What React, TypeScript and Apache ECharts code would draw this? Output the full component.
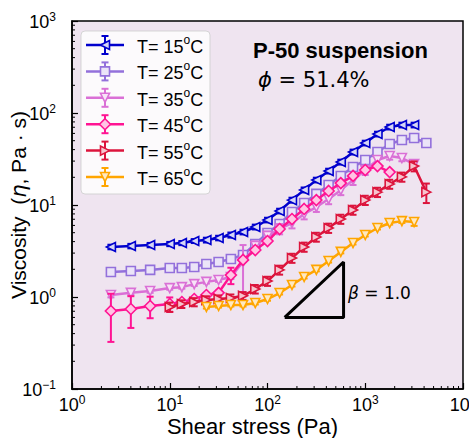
import React, { useEffect, useRef } from "react";
import * as echarts from "echarts";

// ---- axis ticks ----
const xTicks = [1, 10, 100, 1000, 10000];
const yTicks = [0.1, 1, 10, 100, 1000];

// ---- data: shear stress (Pa), viscosity (Pa·s), error (Pa·s) ----
const stress15 = [2.5, 4.0, 6.3, 10, 13.3, 17.8, 23.7, 31.6, 42.2, 56.2, 75, 100, 133, 178, 237, 316, 422, 562, 750, 1000, 1334, 1778, 2371, 3162];
const visc15 = [3.5, 3.58, 3.67, 3.77, 3.86, 4.06, 4.16, 4.38, 4.72, 5.09, 5.77, 6.87, 8.61, 11.3, 14.6, 18.7, 23.4, 29.3, 37.7, 47.2, 59.1, 70.4, 74.1, 74.1];
const err15 = [0.2, 0.2, 0.2, 0.2, 0.2, 0.2, 0.25, 0.25, 0.3, 0.3, 0.35, 0.4, 0.5, 0.7, 0.9, 1.1, 1.4, 1.8, 2.3, 2.8, 3.5, 4.2, 4.4, 4.4];

const stress25 = [2.5, 4.0, 6.3, 10, 13.3, 17.8, 23.7, 31.6, 42.2, 56.2, 75, 100, 133, 178, 237, 316, 422, 562, 750, 1000, 1334, 1778, 2371, 3162, 4217];
const visc25 = [1.87, 1.92, 1.97, 2.07, 2.07, 2.12, 2.28, 2.4, 2.59, 2.86, 3.77, 4.96, 6.22, 8.39, 10.5, 13.2, 16.5, 20.7, 25.9, 30.8, 37.7, 46.0, 50.9, 53.5, 47.2];
const err25 = [0.07, 0.07, 0.08, 0.08, 0.08, 0.08, 0.09, 0.1, 0.1, 0.11, 0.15, 0.2, 0.25, 0.35, 0.4, 0.5, 0.7, 0.8, 1.0, 1.2, 1.5, 1.8, 2.0, 2.1, 1.9];

const stress35 = [2.5, 4.0, 6.3, 10, 13.3, 17.8, 23.7, 31.6, 42.2, 56.2, 75, 100, 133, 178, 237, 316, 422, 562, 750, 1000, 1334, 1778, 2371, 3162];
const visc35 = [1.05, 1.11, 1.16, 1.25, 1.28, 1.38, 1.46, 1.53, 1.65, 2.4, 3.58, 4.6, 5.5, 6.37, 7.98, 9.5, 11.6, 14.5, 18.7, 24.0, 30.8, 34.1, 32.4, 27.8];
const err35 = [0.06, 0.05, 0.05, 0.05, 0.05, 0.06, 0.06, 0.07, 0.08, 1.27, 0.45, 0.55, 0.7, 0.8, 1.0, 1.1, 1.4, 1.7, 2.2, 2.8, 3.0, 3.0, 2.5, 2.0];

const stress45 = [2.5, 4.0, 6.3, 10, 13.3, 17.8, 23.7, 31.6, 42.2, 56.2, 75, 100, 133, 178, 237, 316, 422, 562, 750, 1000, 1334, 1778];
const visc45 = [0.705, 0.741, 0.798, 0.839, 0.882, 0.95, 1.05, 1.11, 1.73, 2.53, 3.24, 4.06, 5.48, 7.04, 9.05, 11.3, 14.2, 17.3, 20.7, 24.0, 26.5, 22.8];
const err45 = [0.38, 0.28, 0.21, 0.15, 0.05, 0.05, 0.05, 0.06, 0.35, 0.12, 0.15, 0.15, 0.2, 0.25, 0.3, 0.4, 0.5, 0.6, 0.7, 0.8, 0.9, 0.8];

const stress55 = [10, 13.3, 17.8, 23.7, 31.6, 42.2, 56.2, 75, 100, 133, 178, 237, 316, 422, 562, 750, 1000, 1334, 1778, 2371, 3162, 4217];
const visc55 = [0.779, 0.839, 0.882, 0.928, 0.951, 0.975, 1.03, 1.22, 1.49, 1.97, 2.65, 3.5, 4.49, 5.62, 7.04, 8.83, 11.3, 13.8, 16.9, 20.2, 26.5, 13.8];
const err55 = [0.09, 0.08, 0.09, 0.09, 0.09, 0.09, 0.1, 0.13, 0.17, 0.22, 0.3, 0.4, 0.5, 0.65, 0.8, 1.0, 1.3, 1.6, 1.9, 2.3, 3.3, 3.3];

const stress65 = [23.7, 31.6, 42.2, 56.2, 75, 100, 133, 178, 237, 316, 422, 562, 750, 1000, 1334, 1778, 2371, 3162];
const visc65 = [0.779, 0.798, 0.818, 0.818, 0.86, 0.951, 1.105, 1.35, 1.65, 1.97, 2.46, 3.09, 3.86, 4.72, 5.62, 6.37, 6.68, 6.53];
const err65 = [0.03, 0.03, 0.03, 0.03, 0.03, 0.04, 0.04, 0.05, 0.06, 0.07, 0.09, 0.11, 0.14, 0.17, 0.2, 0.25, 0.3, 0.6];

// slope triangle (beta = 1.0)
const slopeX = [150, 600, 600, 150];
const slopeY = [0.6, 0.6, 2.4, 0.6];

const temps = ["15", "25", "35", "45", "55", "65"];
const stresses = [stress15, stress25, stress35, stress45, stress55, stress65];
const viscs = [visc15, visc25, visc35, visc45, visc55, visc65];
const errs = [err15, err25, err35, err45, err55, err65];

const colors = ["#0000cd", "#9370db", "#da70d6", "#ff1493", "#dc143c", "#ffa500"];
const faces = ["#d6d6f6", "#ebe4f8", "#f8e4f7", "#ffc4e4", "#f6c4ce", "#ffe9bf"];
const symbols = ["triangle", "rect", "triangle", "diamond", "triangle", "triangle"];
const rotations = [90, 0, 180, 0, -90, 180];
const markerKinds = ["left", "square", "down", "diamond", "right", "down"];

const SANS = "Liberation Sans";
const DEJAVU = "DejaVu Sans";

function markerShape(kind: string, cx: number, cy: number, color: string, face: string) {
  const r = 4.5;
  const style = { fill: face, stroke: color, lineWidth: 1.6 };
  if (kind === "square") return { type: "rect", shape: { x: cx - r, y: cy - r, width: 2 * r, height: 2 * r }, style };
  let pts: number[][] = [];
  if (kind === "left") pts = [[cx - r, cy], [cx + r, cy - r], [cx + r, cy + r]];
  if (kind === "right") pts = [[cx + r, cy], [cx - r, cy - r], [cx - r, cy + r]];
  if (kind === "down") pts = [[cx - r, cy - r], [cx + r, cy - r], [cx, cy + r]];
  if (kind === "diamond") pts = [[cx, cy - 5.5], [cx + 5.5, cy], [cx, cy + 5.5], [cx - 5.5, cy]];
  return { type: "polygon", shape: { points: pts }, style };
}

export default function App() {
  const ref = useRef<HTMLDivElement>(null);
  useEffect(() => {
    const chart = echarts.init(ref.current!, null, { renderer: "svg" });

    const tickRich = {
      b: { fontSize: 18, fontFamily: SANS, color: "#000", lineHeight: 20, verticalAlign: "bottom" },
      s: { fontSize: 12, fontFamily: SANS, color: "#000", lineHeight: 6, verticalAlign: "top" },
    };
    const fmt = (v: number) => {
      const e = Math.round(Math.log10(v));
      return `{b|10}{s|${e < 0 ? "\u2212" + -e : e}}`;
    };

    const xMinor: number[] = [];
    for (let d = 0; d < 4; d++) for (let m = 2; m <= 9; m++) xMinor.push(m * Math.pow(10, d));
    const yMinor: number[] = [];
    for (let d = -1; d < 3; d++) for (let m = 2; m <= 9; m++) yMinor.push(m * Math.pow(10, d));

    const series: any[] = [];
    temps.forEach((t, i) => {
      const color = colors[i];
      series.push({
        type: "custom",
        silent: true,
        z: 2 + i * 2,
        clip: false,
        data: stresses[i].map((x, k) => [x, viscs[i][k], errs[i][k]]),
        encode: { x: 0, y: 1 },
        renderItem: (_p: any, api: any) => {
          const xv = api.value(0), yv = api.value(1), e = api.value(2);
          const top = api.coord([xv, yv + e]);
          const bot = api.coord([xv, Math.max(yv - e, 0.001)]);
          const hw = 3.5;
          const st = { stroke: color, lineWidth: 2 };
          return {
            type: "group",
            children: [
              { type: "line", shape: { x1: top[0], y1: top[1], x2: bot[0], y2: bot[1] }, style: st },
              { type: "line", shape: { x1: top[0] - hw, y1: top[1], x2: top[0] + hw, y2: top[1] }, style: st },
              { type: "line", shape: { x1: bot[0] - hw, y1: bot[1], x2: bot[0] + hw, y2: bot[1] }, style: st },
            ],
          };
        },
      });
      series.push({
        type: "line",
        name: `T= ${t}`,
        silent: true,
        z: 3 + i * 2,
        data: stresses[i].map((x, k) => [x, viscs[i][k]]),
        symbol: symbols[i],
        symbolSize: symbols[i] === "diamond" ? 11 : 9,
        symbolRotate: rotations[i],
        showSymbol: true,
        lineStyle: { color, width: 2.5 },
        itemStyle: { color: faces[i], borderColor: color, borderWidth: 1.6 },
      });
    });

    series.push({
      type: "line",
      silent: true,
      z: 20,
      symbol: "none",
      data: slopeX.map((x, k) => [x, slopeY[k]]),
      lineStyle: { color: "#000", width: 3 },
    });

    series.push({
      type: "custom",
      silent: true,
      z: 21,
      clip: false,
      data: xMinor.map((v) => [v, yTicks[0]]),
      encode: { x: 0, y: 1 },
      renderItem: (_p: any, api: any) => {
        const p = api.coord([api.value(0), yTicks[0]]);
        return { type: "line", shape: { x1: p[0], y1: p[1], x2: p[0], y2: p[1] - 3 }, style: { stroke: "#000", lineWidth: 1 } };
      },
    });
    series.push({
      type: "custom",
      silent: true,
      z: 21,
      clip: false,
      data: yMinor.map((v) => [xTicks[0], v]),
      encode: { x: 0, y: 1 },
      renderItem: (_p: any, api: any) => {
        const p = api.coord([xTicks[0], api.value(1)]);
        return { type: "line", shape: { x1: p[0], y1: p[1], x2: p[0] + 3, y2: p[1] }, style: { stroke: "#000", lineWidth: 1 } };
      },
    });

    // legend (manual, matplotlib style)
    const legendChildren: any[] = [
      { type: "rect", shape: { x: 81, y: 31, width: 129, height: 163, r: 4 }, style: { fill: "rgba(255,255,255,0.8)", stroke: "rgba(204,204,204,0.8)", lineWidth: 1 } },
    ];
    temps.forEach((t, i) => {
      const cy = 45 + i * 26.4;
      const cx = 105;
      const color = colors[i];
      const st = { stroke: color, lineWidth: 2 };
      legendChildren.push(
        { type: "line", shape: { x1: 86, y1: cy, x2: 124, y2: cy }, style: { stroke: color, lineWidth: 2.5 } },
        { type: "line", shape: { x1: cx, y1: cy - 9, x2: cx, y2: cy + 9 }, style: st },
        { type: "line", shape: { x1: cx - 3.5, y1: cy - 9, x2: cx + 3.5, y2: cy - 9 }, style: st },
        { type: "line", shape: { x1: cx - 3.5, y1: cy + 9, x2: cx + 3.5, y2: cy + 9 }, style: st },
        markerShape(markerKinds[i], cx, cy, color, faces[i]),
        {
          type: "text",
          x: 137,
          y: cy,
          style: {
            text: `{b|T= ${t}}{s|o}{b|C}`,
            verticalAlign: "middle",
            align: "left",
            rich: {
              b: { fontSize: 18, fontFamily: SANS, fill: "#000", lineHeight: 22, verticalAlign: "bottom" },
              s: { fontSize: 12, fontFamily: SANS, fill: "#000", lineHeight: 12, verticalAlign: "top" },
            },
          },
        }
      );
    });

    const option: any = {
      animation: false,
      backgroundColor: "#ffffff",
      grid: {
        left: 72, right: 6, top: 21, bottom: 49,
        containLabel: false, outerBoundsMode: "none",
        show: true, backgroundColor: "#efe4f0", borderColor: "#000", borderWidth: 1.5,
      },
      xAxis: {
        type: "log",
        logBase: 10,
        min: xTicks[0],
        max: xTicks[xTicks.length - 1],
        axisLine: { lineStyle: { color: "#000", width: 1.5 } },
        axisTick: { inside: true, length: 6, lineStyle: { color: "#000", width: 1.2 } },
        axisLabel: { formatter: fmt, rich: tickRich, margin: 5 },
        splitLine: { show: false },
        name: "Shear stress (Pa)",
        nameLocation: "middle",
        nameGap: 26,
        nameMoveOverlap: false,
        nameTextStyle: { fontFamily: SANS, fontSize: 22, color: "#000", padding: [0, 30, 0, 0] },
      },
      yAxis: {
        type: "log",
        logBase: 10,
        min: yTicks[0],
        max: yTicks[yTicks.length - 1],
        axisLine: { lineStyle: { color: "#000", width: 1.5 } },
        axisTick: { inside: true, length: 6, lineStyle: { color: "#000", width: 1.2 } },
        axisLabel: { formatter: fmt, rich: tickRich, margin: 16 },
        splitLine: { show: false },
        name: "Viscosity  ({i|η}, Pa · s)",
        nameLocation: "middle",
        nameGap: 43,
        nameMoveOverlap: false,
        nameTextStyle: {
          fontFamily: SANS,
          fontSize: 21,
          color: "#000",
          rich: { i: { fontFamily: DEJAVU, fontStyle: "italic", fontSize: 21, color: "#000" } },
        },
      },
      graphic: [
        { type: "group", z: 100, children: legendChildren },
        {
          type: "text",
          z: 100,
          x: 253,
          y: 50,
          style: { text: "P-50 suspension", fontFamily: SANS, fontSize: 22, fontWeight: "bold", fill: "#000", verticalAlign: "middle" },
        },
        {
          type: "text",
          z: 100,
          x: 258,
          y: 80,
          style: {
            text: "{i|ϕ}{n| = 51.4%}",
            verticalAlign: "middle",
            rich: {
              i: { fontFamily: DEJAVU, fontStyle: "italic", fontSize: 21, fill: "#000" },
              n: { fontFamily: DEJAVU, fontSize: 21, fill: "#000" },
            },
          },
        },
        {
          type: "text",
          z: 100,
          x: 348,
          y: 293,
          style: {
            text: "{i|β}{n| = 1.0}",
            verticalAlign: "middle",
            rich: {
              i: { fontFamily: DEJAVU, fontStyle: "italic", fontSize: 17, fill: "#000" },
              n: { fontFamily: DEJAVU, fontSize: 17, fill: "#000" },
            },
          },
        },
      ],
      series,
    };

    chart.setOption(option);
    return () => chart.dispose();
  }, []);
  return <div ref={ref} style={{ position: "fixed", left: 0, top: 0, width: 469, height: 438, background: "#fff" }} />;
}
